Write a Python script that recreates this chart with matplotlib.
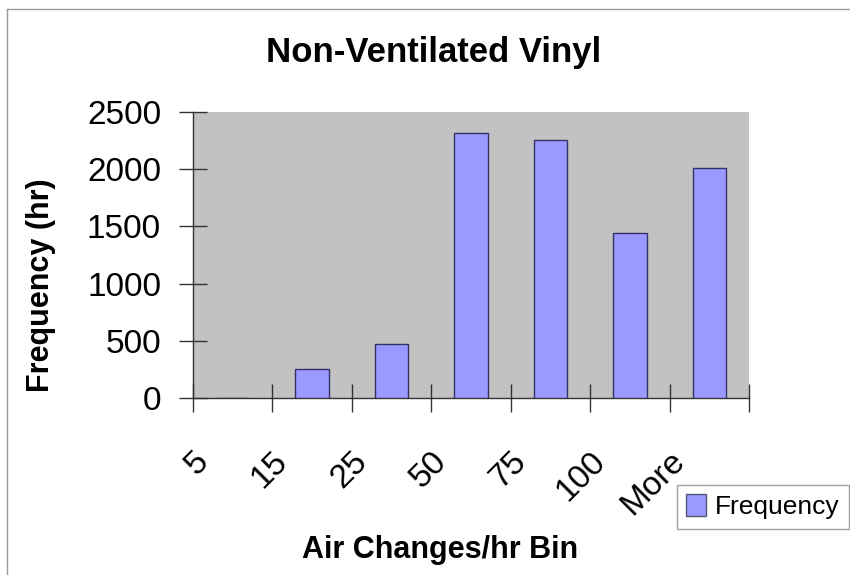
import matplotlib
matplotlib.use("Agg")
import matplotlib.pyplot as plt
from matplotlib.transforms import ScaledTranslation
from matplotlib.patches import Patch
from matplotlib.lines import Line2D

plt.rcParams['font.family'] = ['Liberation Sans', 'DejaVu Sans']

bins = ["5", "15", "25", "50", "75", "100", "More"]
frequency = [0, 250, 470, 2315, 2255, 1445, 2010]
y_ticks = [0, 500, 1000, 1500, 2000, 2500]

W, H = 850, 575
fig = plt.figure(figsize=(W / 100, H / 100), dpi=100)
fig.patch.set_facecolor("white")

ax = fig.add_axes([193 / W, 1 - 398 / H, (749 - 193) / W, (398 - 112) / H])
ax.set_facecolor("#C2C2C2")

n = len(bins)
centers = [i + 0.5 for i in range(n)]
ax.bar(centers, frequency, width=0.42, color="#9999FF", edgecolor="#333366",
       linewidth=1.0, zorder=3)

ax.set_xlim(0, n)
ax.set_ylim(0, 2500)

# category boundaries carry the tick marks, centres carry the labels
ax.set_xticks(range(n + 1))
ax.set_xticklabels([])
ax.set_xticks(centers, minor=True)
ax.set_xticklabels(bins, minor=True, rotation=45, ha="right", va="center",
                   rotation_mode="anchor", fontsize=24)
ax.tick_params(axis="x", which="minor", length=0, pad=42)
ax.tick_params(axis="x", which="major", direction="inout", length=20,
               width=1, color="#333333")
offset = ScaledTranslation(-0.29, 0, fig.dpi_scale_trans)
for lbl in ax.get_xticklabels(minor=True):
    lbl.set_transform(lbl.get_transform() + offset)

ax.set_yticks(y_ticks)
ax.set_yticklabels([str(v) for v in y_ticks], fontsize=24)
ax.tick_params(axis="y", direction="inout", length=20, width=1,
               color="#333333", pad=13)

for side in ("top", "right"):
    ax.spines[side].set_visible(False)
for side in ("left", "bottom"):
    ax.spines[side].set_color("#333333")
    ax.spines[side].set_linewidth(1.0)

fig.text(434 / W, 1 - 62 / H, "Non-Ventilated Vinyl", ha="center",
         va="baseline", fontsize=25, fontweight="bold")
fig.text(41 / W, 1 - 285 / H, "Frequency (hr)", ha="center", va="center",
         rotation=90, fontsize=22, fontweight="bold")
fig.text(440 / W, 1 - 558 / H, "Air Changes/hr Bin", ha="center",
         va="baseline", fontsize=22, fontweight="bold")

fig.legend(handles=[Patch(facecolor="#9999FF", edgecolor="#555577",
                          label="Frequency")],
           loc="upper left", bbox_to_anchor=(677 / W, 1 - 485 / H),
           fontsize=19, frameon=True, fancybox=False, edgecolor="#888888",
           handlelength=0.75, handleheight=0.9, handletextpad=0.35,
           borderpad=0.35, borderaxespad=0)

# chart-area border along the top and left edges
fig.add_artist(Line2D([7 / W, 1], [1 - 9 / H, 1 - 9 / H], color="#999999",
                      linewidth=1, transform=fig.transFigure))
fig.add_artist(Line2D([7 / W, 7 / W], [0, 1 - 9 / H], color="#999999",
                      linewidth=1, transform=fig.transFigure))

fig.savefig("out.png", dpi=100)
